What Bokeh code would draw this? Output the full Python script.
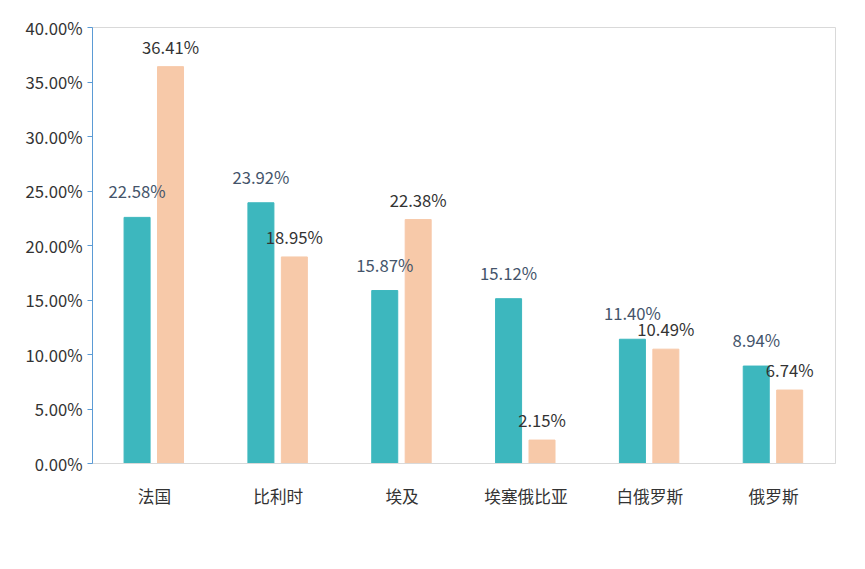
from bokeh.plotting import figure
from bokeh.models import ColumnDataSource, NumeralTickFormatter, FactorRange, Legend, LegendItem, Range1d
from bokeh.transform import dodge
from bokeh.core.properties import value
from bokeh.embed import file_html
from bokeh.resources import INLINE

cats = ["法国", "比利时", "埃及", "埃塞俄比亚", "白俄罗斯", "俄罗斯"]
q2025 = [0.2258, 0.2392, 0.1587, 0.1512, 0.1140, 0.0894]
q2026 = [0.3641, 0.1895, 0.2238, 0.0215, 0.1049, 0.0674]

src = ColumnDataSource(dict(cats=cats, a=q2025, b=q2026,
    la=[f"{v*100:.2f}%" for v in q2025], lb=[f"{v*100:.2f}%" for v in q2026]))

p = figure(x_range=FactorRange(*cats), y_range=Range1d(0, 0.40), width=849, height=553,
           output_backend="svg", toolbar_location=None,
           min_border_left=92, min_border_top=27, min_border_right=14, min_border_bottom=90)
font = "Noto Sans CJK SC"
r1 = p.vbar(x=dodge("cats", -0.14, range=p.x_range), top="a", width=0.21, source=src, color="#3DB7BE")
r2 = p.vbar(x=dodge("cats", 0.13, range=p.x_range), top="b", width=0.21, source=src, color="#F7C9A9")
p.text(x=dodge("cats", -0.14, range=p.x_range), y="a", text="la", source=src, y_offset=-14,
       text_align="center", text_baseline="bottom", text_font=value(font), text_font_size="12.5pt", text_color="#44546A")
p.text(x=dodge("cats", 0.13, range=p.x_range), y="b", text="lb", source=src, y_offset=-8,
       text_align="center", text_baseline="bottom", text_font=value(font), text_font_size="12.5pt", text_color="#333333")

p.xgrid.grid_line_color = None
p.ygrid.grid_line_color = None
p.outline_line_color = "#D9D9D9"
p.yaxis.formatter = NumeralTickFormatter(format="0.00%")
p.yaxis.ticker = [i * 0.05 for i in range(9)]
p.yaxis.axis_line_color = "#5B9BD5"
p.yaxis.major_tick_line_color = "#5B9BD5"
p.yaxis.major_tick_out = 5
p.yaxis.major_tick_in = 0
p.yaxis.minor_tick_line_color = None
p.xaxis.axis_line_color = "#D9D9D9"
p.xaxis.major_tick_line_color = None
p.xaxis.minor_tick_line_color = None
for ax in (p.xaxis, p.yaxis):
    ax.major_label_text_font = font
    ax.major_label_text_font_size = "12.5pt"
    ax.major_label_text_color = "#333333"
p.xaxis.major_label_standoff = 14

legend = Legend(items=[LegendItem(label="2025年Q1", renderers=[r1]), LegendItem(label="2026年Q1", renderers=[r2])],
                orientation="horizontal", location=(232, -88), border_line_color=None,
                background_fill_alpha=0,
                label_text_font=font, label_text_font_size="12pt", label_text_color="#333333",
                glyph_width=12, glyph_height=12, spacing=20, margin=0)
p.add_layout(legend, "center")

open("out.html", "w").write(file_html(p, INLINE))
